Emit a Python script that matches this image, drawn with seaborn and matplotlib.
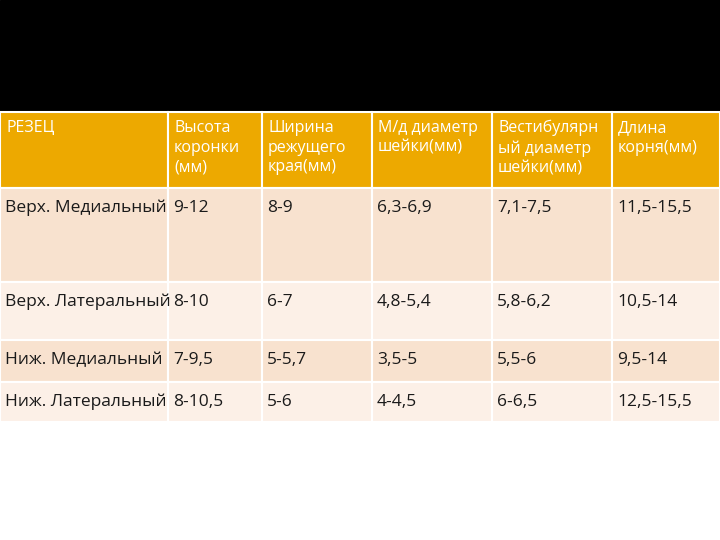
import matplotlib
matplotlib.use("Agg")
import matplotlib.pyplot as plt
from matplotlib.patches import Rectangle
import seaborn as sns

sns.set_style("white")
plt.rcParams['font.family'] = ['Open Sans', 'DejaVu Sans']

headers = ["РЕЗЕЦ", "Высота\nкоронки\n(мм)", "Ширина\nрежущего\nкрая(мм)",
           "М/д диаметр\nшейки(мм)", "Вестибулярн\nый диаметр\nшейки(мм)", "Длина\nкорня(мм)"]
teeth = ["Верх. Медиальный", "Верх. Латеральный", "Ниж. Медиальный", "Ниж. Латеральный"]
crown_height = ["9-12", "8-10", "7-9,5", "8-10,5"]
edge_width = ["8-9", "6-7", "5-5,7", "5-6"]
md_diameter = ["6,3-6,9", "4,8-5,4", "3,5-5", "4-4,5"]
vest_diameter = ["7,1-7,5", "5,8-6,2", "5,5-6", "6-6,5"]
root_length = ["11,5-15,5", "10,5-14", "9,5-14", "12,5-15,5"]

col_x = [0, 168, 262, 372, 492, 612, 720]
row_y = [112, 188, 282, 340, 382, 422]
row_colors = ["#F8E2CF", "#FCF0E7", "#F8E2CF", "#FCF0E7"]

fig = plt.figure(figsize=(7.2, 5.4), dpi=100)
ax = fig.add_axes([0, 0, 1, 1])
ax.set_xlim(0, 720)
ax.set_ylim(540, 0)
ax.axis("off")

ax.add_patch(Rectangle((0, 0), 720, 112, color="black"))

columns = [teeth, crown_height, edge_width, md_diameter, vest_diameter, root_length]
for c in range(6):
    x0, x1 = col_x[c], col_x[c + 1]
    ax.add_patch(Rectangle((x0, row_y[0]), x1 - x0, row_y[1] - row_y[0],
                           facecolor="#EDA900", edgecolor="white", lw=1.5))
    ax.text(x0 + 6, row_y[0] + 8, headers[c], color="white", fontsize=11.5,
            va="top", ha="left", linespacing=1.3)
    for r in range(4):
        y0, y1 = row_y[r + 1], row_y[r + 2]
        ax.add_patch(Rectangle((x0, y0), x1 - x0, y1 - y0,
                               facecolor=row_colors[r], edgecolor="white", lw=1.5))
        ax.text(x0 + 5, y0 + 12, columns[c][r], color="#1a1a1a", fontsize=12.5,
                va="top", ha="left")

fig.savefig("out.png", dpi=100, facecolor="white")
